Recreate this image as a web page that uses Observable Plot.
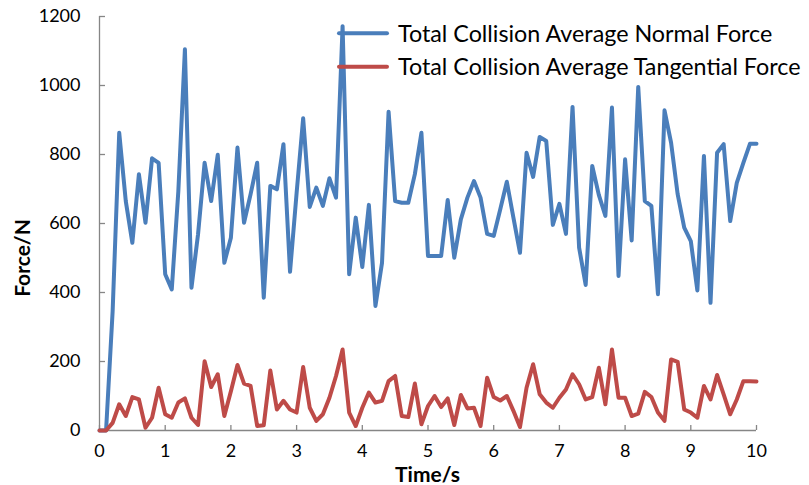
<!DOCTYPE html>
<html>
<head>
<meta charset="utf-8">
<script src="https://cdn.jsdelivr.net/npm/d3@7"></script>
<script src="https://cdn.jsdelivr.net/npm/@observablehq/plot@0.6"></script>
<style>
  html, body { margin: 0; padding: 0; background: #fff; }
  #chart { width: 809px; height: 485px; }
</style>
</head>
<body>
<div id="chart"></div>
<script>
// ---- data ----
const time = [
  0, 0.1, 0.2, 0.3, 0.4, 0.5, 0.6, 0.7, 0.8, 0.9,
  1, 1.1, 1.2, 1.3, 1.4, 1.5, 1.6, 1.7, 1.8, 1.9,
  2, 2.1, 2.2, 2.3, 2.4, 2.5, 2.6, 2.7, 2.8, 2.9,
  3, 3.1, 3.2, 3.3, 3.4, 3.5, 3.6, 3.7, 3.8, 3.9,
  4, 4.1, 4.2, 4.3, 4.4, 4.5, 4.6, 4.7, 4.8, 4.9,
  5, 5.1, 5.2, 5.3, 5.4, 5.5, 5.6, 5.7, 5.8, 5.9,
  6, 6.1, 6.2, 6.3, 6.4, 6.5, 6.6, 6.7, 6.8, 6.9,
  7, 7.1, 7.2, 7.3, 7.4, 7.5, 7.6, 7.7, 7.8, 7.9,
  8, 8.1, 8.2, 8.3, 8.4, 8.5, 8.6, 8.7, 8.8, 8.9,
  9, 9.1, 9.2, 9.3, 9.4, 9.5, 9.6, 9.7, 9.8, 9.9,
  10
];
const normalForce = [
  0, 0, 346, 863, 665, 544, 743, 602, 789, 776,
  453, 409, 694, 1105, 414, 569, 776, 665, 799, 486,
  559, 820, 602, 685, 776, 385, 709, 699, 830, 460,
  688, 905, 648, 704, 651, 731, 675, 1172, 453, 617,
  474, 654, 361, 486, 924, 665, 660, 660, 743, 863,
  506, 506, 506, 668, 501, 612, 675, 723, 675, 570,
  564, 641, 721, 617, 515, 805, 735, 851, 839, 596,
  657, 570, 938, 530, 422, 767, 683, 622, 936, 448,
  786, 551, 996, 665, 651, 395, 928, 834, 685, 588,
  549, 406, 796, 370, 805, 830, 607, 718, 776, 831,
  831
];
const tangentialForce = [
  0, 0, 22, 76, 42, 97, 90, 8, 37, 124,
  47, 37, 81, 93, 37, 16, 201, 126, 163, 42,
  114, 190, 136, 129, 13, 15, 174, 61, 86, 61,
  52, 184, 66, 28, 47, 95, 158, 235, 52, 13,
  66, 110, 81, 86, 143, 158, 42, 39, 136, 18,
  71, 100, 68, 93, 16, 103, 64, 66, 13, 153,
  97, 87, 100, 57, 10, 124, 192, 105, 81, 66,
  95, 119, 163, 134, 90, 97, 182, 76, 235, 95,
  95, 42, 49, 112, 97, 52, 28, 206, 199, 61,
  52, 37, 129, 90, 161, 105, 47, 90, 143, 143,
  142
];
const seriesNames = [
  "Total Collision Average Normal Force",
  "Total Collision Average Tangential Force"
];
const xTicks = [0, 1, 2, 3, 4, 5, 6, 7, 8, 9, 10];
const yTicks = [0, 200, 400, 600, 800, 1000, 1200];
const xTitle = "Time/s";
const yTitle = "Force/N";

// ---- layout / style ----
const W = 809, H = 485;
const mL = 99, mR = 53, mT = 16, mB = 55;
const colors = ["#4A7EBB", "#BE4B48"];
const axisColor = "#868686";
const font = "Lato, 'Open Sans', sans-serif";

const normalRows = time.map((t, i) => ({ t, v: normalForce[i] }));
const tangRows = time.map((t, i) => ({ t, v: tangentialForce[i] }));

const plot = Plot.plot({
  width: W,
  height: H,
  marginLeft: mL,
  marginRight: mR,
  marginTop: mT,
  marginBottom: mB,
  style: { fontFamily: font, fontSize: "18px", color: "#000", background: "#fff", overflow: "visible" },
  x: { domain: [0, 10], label: null },
  y: { domain: [0, 1200], label: null },
  marks: [
    Plot.ruleX([0], { stroke: axisColor, strokeWidth: 1.3 }),
    Plot.ruleY([0], { stroke: axisColor, strokeWidth: 1.3 }),
    Plot.tickY(yTicks, { y: d => d, stroke: axisColor, strokeWidth: 1.3, insetRight: W - mL - mR - 6 }),
    Plot.tickX(xTicks, { x: d => d, stroke: axisColor, strokeWidth: 1.3, insetTop: H - mT - mB - 5 }),
    Plot.axisY({ ticks: yTicks, tickSize: 0, tickPadding: 19, fontSize: 18, fill: "#000", label: null, tickFormat: d => String(d) }),
    Plot.axisX({ ticks: xTicks, tickSize: 0, tickPadding: 14, fontSize: 18, fill: "#000", label: null, tickFormat: d => String(d) }),
    Plot.line(normalRows, { x: "t", y: "v", stroke: colors[0], strokeWidth: 4, strokeLinejoin: "round", strokeLinecap: "round" }),
    Plot.line(tangRows, { x: "t", y: "v", stroke: colors[1], strokeWidth: 4, strokeLinejoin: "round", strokeLinecap: "round" })
  ]
});

document.getElementById("chart").appendChild(plot);

// ---- titles and legend (real text) ----
const svg = d3.select(plot);
svg.append("text")
  .attr("x", (mL + (W - mR)) / 2)
  .attr("y", 482)
  .attr("text-anchor", "middle")
  .attr("font-family", font)
  .attr("font-weight", "bold")
  .attr("font-size", 21)
  .attr("fill", "#000")
  .text(xTitle);

svg.append("text")
  .attr("transform", "translate(30,258) rotate(-90)")
  .attr("text-anchor", "middle")
  .attr("font-family", font)
  .attr("font-weight", "bold")
  .attr("font-size", 21)
  .attr("fill", "#000")
  .text(yTitle);

const legend = svg.append("g");
const legY = [33.3, 66.7];
seriesNames.forEach((name, i) => {
  legend.append("line")
    .attr("x1", 339).attr("x2", 387)
    .attr("y1", legY[i]).attr("y2", legY[i])
    .attr("stroke", colors[i])
    .attr("stroke-width", 4)
    .attr("stroke-linecap", "round");
  legend.append("text")
    .attr("x", 398)
    .attr("y", legY[i])
    .attr("dy", "0.36em")
    .attr("text-anchor", "start")
    .attr("font-family", font)
    .attr("font-size", 23.3)
    .attr("fill", "#000")
    .text(name);
});
</script>
</body>
</html>
